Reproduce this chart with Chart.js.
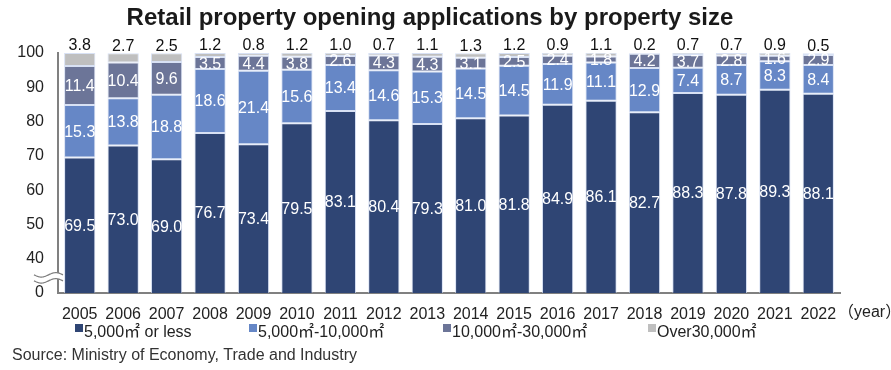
<!DOCTYPE html>
<html>
<head>
<meta charset="utf-8">
<script src="https://cdn.jsdelivr.net/npm/chart.js@4"></script>
<style>
  html, body { margin: 0; padding: 0; background: #fff; }
  #wrap { width: 891px; height: 370px; position: relative; }
</style>
</head>
<body>
<div id="wrap"><canvas id="c" width="891" height="370"></canvas></div>
<script>
// Share of retail property opening applications (%) by floor area, 2005-2022
const years = ['2005','2006','2007','2008','2009','2010','2011','2012','2013','2014','2015','2016','2017','2018','2019','2020','2021','2022'];
const upTo5000 = [69.5, 73.0, 69.0, 76.7, 73.4, 79.5, 83.1, 80.4, 79.3, 81.0, 81.8, 84.9, 86.1, 82.7, 88.3, 87.8, 89.3, 88.1];
const from5000to10000 = [15.3, 13.8, 18.8, 18.6, 21.4, 15.6, 13.4, 14.6, 15.3, 14.5, 14.5, 11.9, 11.1, 12.9, 7.4, 8.7, 8.3, 8.4];
const from10000to30000 = [11.4, 10.4, 9.6, 3.5, 4.4, 3.8, 2.6, 4.3, 4.3, 3.1, 2.5, 2.4, 1.8, 4.2, 3.7, 2.8, 1.6, 2.9];
const over30000 = [3.8, 2.7, 2.5, 1.2, 0.8, 1.2, 1.0, 0.7, 1.1, 1.3, 1.2, 0.9, 1.1, 0.2, 0.7, 0.7, 0.9, 0.5];
const seriesNames = ['5,000㎡ or less', '5,000㎡-10,000㎡', '10,000㎡-30,000㎡', 'Over30,000㎡'];
const yTickValues = [30, 40, 50, 60, 70, 80, 90, 100];   // 30 sits at the axis break and reads "0"

const colors = ['#2F4574', '#6687C6', '#6C7598', '#BFBFBF'];
const FONT = '"Liberation Sans", Arial, "Noto Sans CJK JP", sans-serif';
const AXIS_MIN = 30;

// value labels: white inside each segment, dark above the topmost segment
const valueLabels = {
  id: 'valueLabels',
  afterDatasetsDraw(chart) {
    const ctx = chart.ctx;
    const area = chart.chartArea;
    ctx.save();
    ctx.font = '16px ' + FONT;
    ctx.textAlign = 'center';
    const last = chart.data.datasets.length - 1;
    chart.data.datasets.forEach((ds, di) => {
      const meta = chart.getDatasetMeta(di);
      meta.data.forEach((bar, i) => {
        const v = ds.data[i];
        const txt = v.toFixed(1);
        if (di === last) {
          ctx.fillStyle = '#111';
          ctx.textBaseline = 'bottom';
          ctx.fillText(txt, bar.x, bar.y + 1);
        } else {
          const bottom = Math.min(bar.base, area.bottom);
          const cy = (bar.y + bottom) / 2;
          ctx.fillStyle = '#fff';
          ctx.textBaseline = 'middle';
          ctx.fillText(txt, bar.x, cy + 1);
        }
      });
    });
    ctx.restore();
  }
};

// title, axis break, unit label, legend and source line
const decorations = {
  id: 'decorations',
  afterDraw(chart) {
    const ctx = chart.ctx;
    ctx.save();

    // title
    ctx.fillStyle = '#1a1a1a';
    ctx.font = 'bold 24px ' + FONT;
    ctx.textAlign = 'center';
    ctx.textBaseline = 'middle';
    ctx.fillText('Retail property opening applications by property size', 430, 18);

    // axis break marks between "0" and "40"
    const yScale = chart.scales.y;
    const yb = (yScale.getPixelForValue(30) + yScale.getPixelForValue(40)) / 2 + 2;
    const x0 = 34, x1 = 63;
    const waveY = (x, off) => yb + off + 2.2 * Math.sin((x - x0) / (x1 - x0) * Math.PI * 2);
    ctx.fillStyle = '#fff';
    ctx.beginPath();
    for (let x = x0; x <= x1; x += 0.5) {
      if (x === x0) ctx.moveTo(x, waveY(x, -3)); else ctx.lineTo(x, waveY(x, -3));
    }
    for (let x = x1; x >= x0; x -= 0.5) ctx.lineTo(x, waveY(x, 3));
    ctx.closePath();
    ctx.fill();
    ctx.strokeStyle = '#7f7f7f';
    ctx.lineWidth = 1.2;
    [-3, 3].forEach(off => {
      ctx.beginPath();
      for (let x = x0; x <= x1; x += 0.5) {
        if (x === x0) ctx.moveTo(x, waveY(x, off)); else ctx.lineTo(x, waveY(x, off));
      }
      ctx.stroke();
    });

    // unit label
    ctx.fillStyle = '#222';
    ctx.font = '16px ' + FONT;
    ctx.textAlign = 'left';
    ctx.textBaseline = 'middle';
    ctx.fillText('（year）', 838, 313);

    // legend
    const boxX = [75, 249, 443, 648];
    const ly = 333;
    seriesNames.forEach((name, i) => {
      ctx.fillStyle = colors[i];
      ctx.fillRect(boxX[i], ly - 9, 8, 8);
      ctx.fillStyle = '#222';
      ctx.fillText(name, boxX[i] + 9, ly);
    });

    // source
    ctx.fillStyle = '#333';
    ctx.fillText('Source: Ministry of Economy, Trade and Industry', 12, 356);
    ctx.restore();
  }
};

const series = [upTo5000, from5000to10000, from10000to30000, over30000];

new Chart(document.getElementById('c'), {
  type: 'bar',
  data: {
    labels: years,
    datasets: series.map((d, i) => ({
      label: seriesNames[i],
      data: d,
      backgroundColor: colors[i],
      borderColor: 'rgba(200,212,240,0.7)',
      borderWidth: 1,
      borderSkipped: false,
      barPercentage: 0.72,
      categoryPercentage: 1.0
    }))
  },
  options: {
    responsive: false,
    animation: false,
    layout: { padding: { top: 53, right: 51, bottom: 47, left: 0 } },
    plugins: {
      legend: { display: false },
      title: { display: false },
      tooltip: { enabled: false }
    },
    scales: {
      x: {
        stacked: true,
        grid: { display: false, drawTicks: false },
        border: { display: true, color: '#808080', width: 2 },
        ticks: { color: '#222', font: { family: FONT, size: 16 }, padding: 12, maxRotation: 0, autoSkip: false },
        afterFit(scale) { scale.height = 30; }
      },
      y: {
        stacked: true,
        min: AXIS_MIN,
        max: 100,
        afterBuildTicks(scale) { scale.ticks = yTickValues.map(v => ({ value: v })); },
        grid: { display: false, drawTicks: false },
        border: { display: true, color: '#808080', width: 2 },
        ticks: {
          color: '#222',
          font: { family: FONT, size: 16 },
          padding: 14,
          callback: (v) => (v === AXIS_MIN ? '0' : String(v))
        },
        afterFit(scale) { scale.width = 58; }
      }
    }
  },
  plugins: [valueLabels, decorations]
});
</script>
</body>
</html>
